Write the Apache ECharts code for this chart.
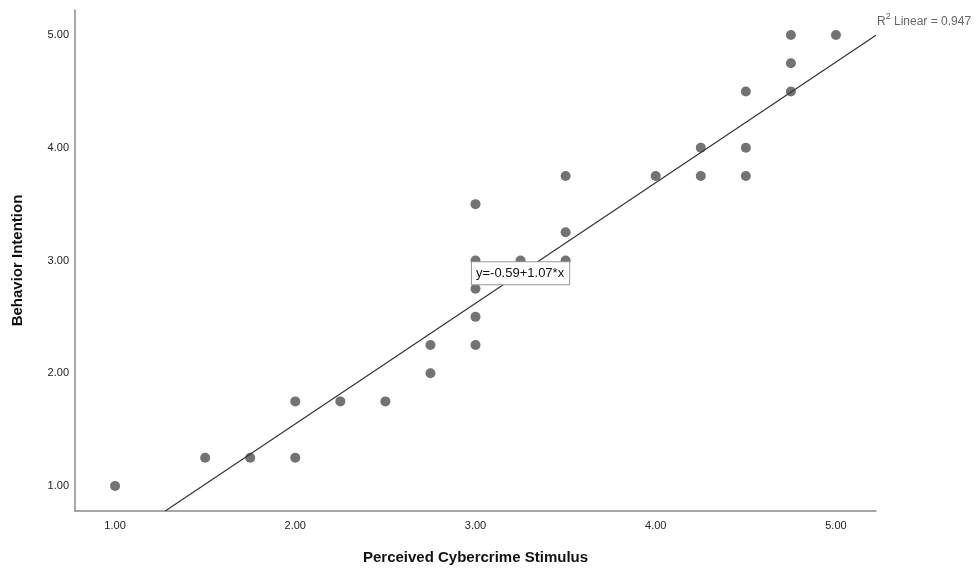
<!DOCTYPE html>
<html>
<head>
<meta charset="utf-8">
<script src="https://cdn.jsdelivr.net/npm/echarts@6/dist/echarts.min.js"></script>
<style>
  html, body { margin: 0; padding: 0; background: #fff; }
  #chart { width: 978px; height: 571px; }
</style>
</head>
<body>
<div id="chart"></div>
<script>
// data
const stimulus = [1.00, 1.50, 1.75, 2.00, 2.00, 2.25, 2.50, 2.75, 2.75, 3.00, 3.00, 3.00, 3.00, 3.00,
  3.25, 3.50, 3.50, 3.50, 4.00, 4.25, 4.25, 4.50, 4.50, 4.50, 4.75, 4.75, 4.75, 5.00];
const intention = [1.00, 1.25, 1.25, 1.25, 1.75, 1.75, 1.75, 2.00, 2.25, 2.25, 2.50, 2.75, 3.00, 3.50,
  3.00, 3.00, 3.25, 3.75, 3.75, 3.75, 4.00, 3.75, 4.00, 4.50, 4.50, 4.75, 5.00, 5.00];
const tickValues = [1, 2, 3, 4, 5];
const fitIntercept = -0.59;
const fitSlope = 1.07;
const rSquared = 0.947;

document.addEventListener("DOMContentLoaded", function () {
  const axisMin = 1 - 0.2222;
  const axisMax = 5 + 0.2222;

  let points = stimulus.map((x, i) => [x, intention[i]]);

  // fit line clipped to the plot box
  let xStart = (axisMin - fitIntercept) / fitSlope;
  let fitLine = [
    [xStart, fitIntercept + fitSlope * xStart],
    [axisMax, fitIntercept + fitSlope * axisMax],
  ];

  let chart = echarts.init(document.getElementById("chart"));
  let axisCommon = {
    type: "value",
    min: axisMin,
    max: axisMax,
    splitLine: { show: false },
    axisTick: { show: false },
    axisLine: { show: true, onZero: false, lineStyle: { color: "#8a8a8a", width: 1.5 } },
    nameLocation: "middle",
    nameTextStyle: {
      fontFamily: "Liberation Sans",
      fontWeight: "bold",
      fontSize: 15,
      color: "#111",
    },
  };
  let labelStyle = {
    fontFamily: "Liberation Sans",
    fontSize: 11,
    color: "#222",
    customValues: tickValues,
    formatter: (v) => v.toFixed(2),
  };

  let option = {
    animation: false,
    grid: { left: 75, right: 102, top: 10, bottom: 60, outerBoundsMode: "none", containLabel: false },
    xAxis: Object.assign({}, axisCommon, {
      name: "Perceived Cybercrime Stimulus",
      nameGap: 39,
      axisLabel: Object.assign({ margin: 9 }, labelStyle),
    }),
    yAxis: Object.assign({}, axisCommon, {
      name: "Behavior Intention",
      nameGap: 50,
      axisLabel: Object.assign({ margin: 6 }, labelStyle),
    }),
    series: [
      {
        type: "line",
        data: fitLine,
        showSymbol: false,
        symbol: "none",
        lineStyle: { color: "#333", width: 1.2 },
        z: 3,
        markPoint: {
          symbol: "rect",
          symbolSize: 0,
          data: [{ coord: [3.25, 2.887] }],
          label: {
            show: true,
            position: "inside",
            formatter: "y=" + fitIntercept.toFixed(2) + "+" + fitSlope.toFixed(2) + "*x",
            fontFamily: "Liberation Sans",
            fontSize: 13,
            color: "#111",
            backgroundColor: "#fff",
            borderColor: "#999",
            borderWidth: 1,
            padding: [5, 5, 4, 4],
          },
        },
      },
      {
        type: "scatter",
        data: points,
        symbolSize: 10,
        itemStyle: { color: "#737373", opacity: 1 },
        z: 2,
      },
    ],
    graphic: [
      {
        type: "text",
        left: 877,
        top: 12,
        style: {
          text: "{r|R}{s|2}{r| Linear = " + rSquared.toFixed(3) + "}",
          rich: {
            r: { fontFamily: "Liberation Sans", fontSize: 12, fill: "#666", lineHeight: 18, verticalAlign: "bottom" },
            s: { fontFamily: "Liberation Sans", fontSize: 9, fill: "#666", lineHeight: 18, padding: [0, 0, 5, 0] },
          },
        },
      },
    ],
  };
  option && chart.setOption(option);
});
</script>
</body>
</html>
